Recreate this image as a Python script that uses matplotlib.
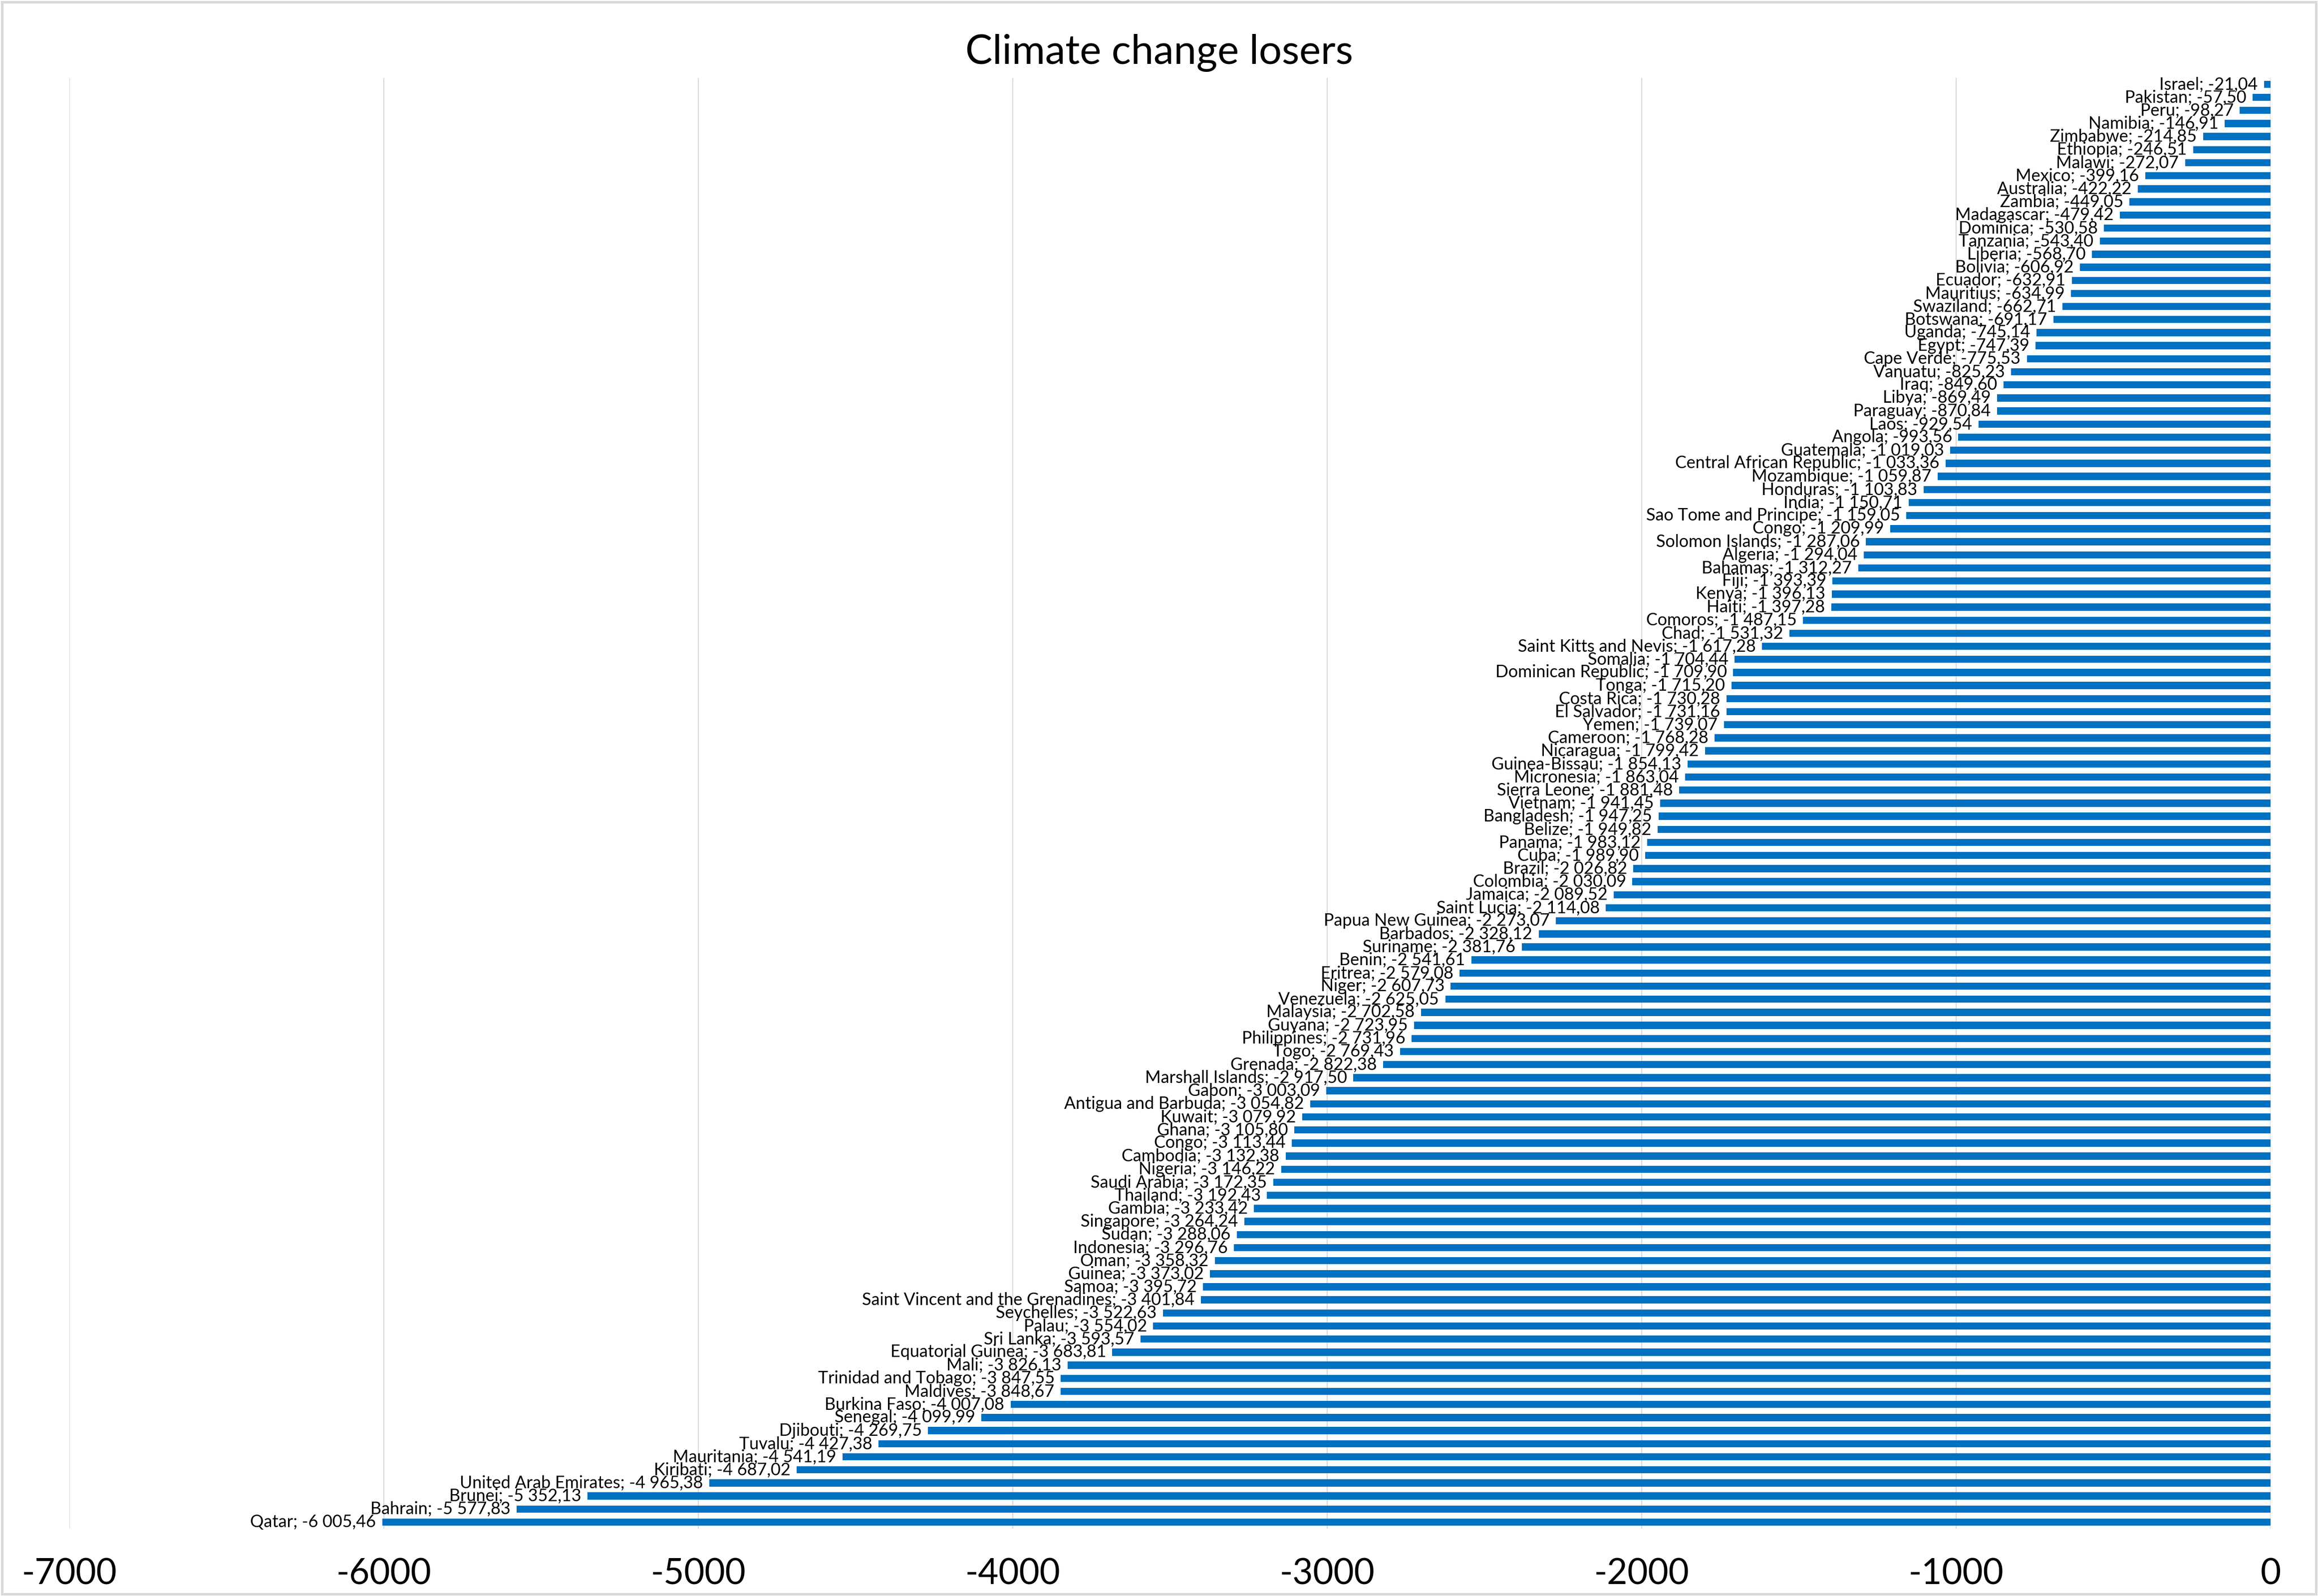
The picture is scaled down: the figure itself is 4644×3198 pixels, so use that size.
import matplotlib.pyplot as plt
from matplotlib.patches import Rectangle

countries = [
    "Israel", "Pakistan", "Peru", "Namibia", "Zimbabwe", "Ethiopia", "Malawi",
    "Mexico", "Australia", "Zambia", "Madagascar", "Dominica", "Tanzania",
    "Liberia", "Bolivia", "Ecuador", "Mauritius", "Swaziland", "Botswana",
    "Uganda", "Egypt", "Cape Verde", "Vanuatu", "Iraq", "Libya", "Paraguay",
    "Laos", "Angola", "Guatemala", "Central African Republic", "Mozambique",
    "Honduras", "India", "Sao Tome and Principe", "Congo", "Solomon Islands",
    "Algeria", "Bahamas", "Fiji", "Kenya", "Haiti", "Comoros", "Chad",
    "Saint Kitts and Nevis", "Somalia", "Dominican Republic", "Tonga",
    "Costa Rica", "El Salvador", "Yemen", "Cameroon", "Nicaragua",
    "Guinea-Bissau", "Micronesia", "Sierra Leone", "Vietnam", "Bangladesh",
    "Belize", "Panama", "Cuba", "Brazil", "Colombia", "Jamaica", "Saint Lucia",
    "Papua New Guinea", "Barbados", "Suriname", "Benin", "Eritrea", "Niger",
    "Venezuela", "Malaysia", "Guyana", "Philippines", "Togo", "Grenada",
    "Marshall Islands", "Gabon", "Antigua and Barbuda", "Kuwait", "Ghana",
    "Congo", "Cambodia", "Nigeria", "Saudi Arabia", "Thailand", "Gambia",
    "Singapore", "Sudan", "Indonesia", "Oman", "Guinea", "Samoa",
    "Saint Vincent and the Grenadines", "Seychelles", "Palau", "Sri Lanka",
    "Equatorial Guinea", "Mali", "Trinidad and Tobago", "Maldives",
    "Burkina Faso", "Senegal", "Djibouti", "Tuvalu", "Mauritania", "Kiribati",
    "United Arab Emirates", "Brunei", "Bahrain", "Qatar",
]

values = [
    -21.04, -57.50, -98.27, -146.91, -214.85, -246.51, -272.07,
    -399.16, -422.22, -449.05, -479.42, -530.58, -543.40,
    -568.70, -606.92, -632.91, -634.99, -662.71, -691.17,
    -745.14, -747.39, -775.53, -825.23, -849.60, -869.49, -870.84,
    -929.54, -993.56, -1019.03, -1033.36, -1059.87,
    -1103.83, -1150.71, -1159.05, -1209.99, -1287.06,
    -1294.04, -1312.27, -1393.39, -1396.13, -1397.28, -1487.15, -1531.32,
    -1617.28, -1704.44, -1709.90, -1715.20,
    -1730.28, -1731.16, -1739.07, -1768.28, -1799.42,
    -1854.13, -1863.04, -1881.48, -1941.45, -1947.25,
    -1949.82, -1983.12, -1989.90, -2026.82, -2030.09, -2089.52, -2114.08,
    -2273.07, -2328.12, -2381.76, -2541.61, -2579.08, -2607.73,
    -2625.05, -2702.58, -2723.95, -2731.96, -2769.43, -2822.38,
    -2917.50, -3003.09, -3054.82, -3079.92, -3105.80,
    -3113.44, -3132.38, -3146.22, -3172.35, -3192.43, -3233.42,
    -3264.24, -3288.06, -3296.76, -3358.32, -3373.02, -3395.72,
    -3401.84, -3522.63, -3554.02, -3593.57,
    -3683.81, -3826.13, -3847.55, -3848.67,
    -4007.08, -4099.99, -4269.75, -4427.38, -4541.19, -4687.02,
    -4965.38, -5352.13, -5577.83, -6005.46,
]

x_ticks = [-7000, -6000, -5000, -4000, -3000, -2000, -1000, 0]


def fmt(v):
    # "-1 019,03" style: space for thousands, comma for decimals
    s = "{:,.2f}".format(v)
    return s.replace(",", " ").replace(".", ",")


font = ["Lato", "DejaVu Sans"]
plt.rcParams["font.family"] = font

fig = plt.figure(figsize=(15.48, 10.66), dpi=300)
ax = fig.add_axes([0.030, 0.0422, 0.9496, 0.9091])

pos = list(range(len(values)))
bars = ax.barh(pos, values, height=0.55, color="#0070C0", zorder=3)
labels = ["{}; {}".format(c, fmt(v)) for c, v in zip(countries, values)]
ax.bar_label(bars, labels=labels, padding=3, fontsize=8.2, color="black")

ax.set_ylim(len(values) - 0.5, -0.5)
ax.set_xlim(-7000, 0)
ax.set_xticks(x_ticks)
ax.set_xticklabels([str(t) for t in x_ticks], fontsize=17)
ax.tick_params(axis="x", length=0, pad=14)
ax.set_yticks([])
ax.xaxis.grid(True, color="#d9d9d9", linewidth=0.5)
ax.set_axisbelow(True)
for sp in ax.spines.values():
    sp.set_visible(False)

fig.text(0.5, 0.967, "Climate change losers", ha="center", va="center",
         fontsize=19.5)
fig.patches.append(Rectangle((0.0008, 0.0012), 0.9984, 0.9976,
                             transform=fig.transFigure, fill=False,
                             edgecolor="#d9d9d9", linewidth=1.2))

fig.savefig("out.png", dpi=300)
